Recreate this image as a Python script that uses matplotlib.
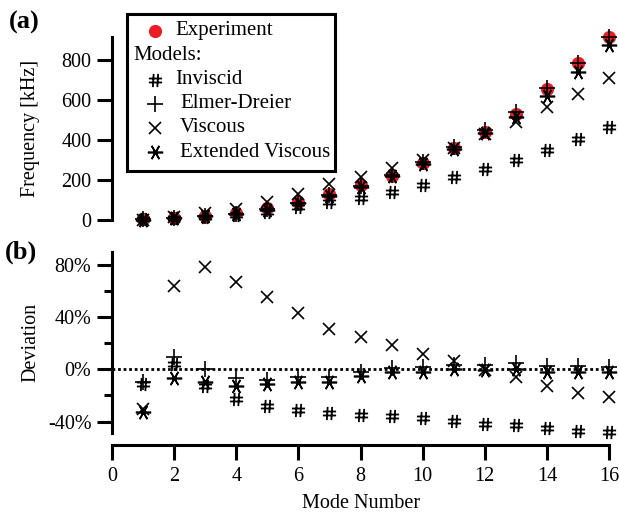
import matplotlib
matplotlib.use('Agg')
import matplotlib.pyplot as plt
from matplotlib.lines import Line2D
from matplotlib.patches import Rectangle
from matplotlib.path import Path
from matplotlib.ticker import FuncFormatter, MultipleLocator

plt.rcParams['font.family'] = ['Liberation Serif', 'DejaVu Serif']

# ---------------- data ----------------
modes = list(range(1, 17))

freq_experiment = [3, 8, 20, 33, 58, 92, 130, 175, 222, 283, 358, 442, 530, 655, 783, 915]
freq_inviscid = [3, 8, 17, 26, 42, 63, 88, 112, 142, 175, 217, 255, 300, 350, 405, 463]
freq_elmer = [2.7, 8.8, 20, 31, 53, 87, 123, 172, 225, 289, 365, 450, 542, 658, 783, 915]
freq_viscous = [2, 13, 36, 55, 92, 132, 180, 217, 258, 300, 362, 428, 492, 563, 630, 708]
freq_ext_viscous = [2, 7.8, 18, 29, 51, 83, 118, 166, 218, 280, 353, 433, 517, 620, 742, 875]

dev_inviscid = [-11.3, 4.0, -12.5, -22.7, -28.0, -31.0, -33.7, -34.6, -35.7, -37.5, -39.5, -41.8, -42.6, -45.0, -47.0, -47.7]
dev_elmer = [-10.0, 9.6, 0.0, -6.4, -8.2, -5.6, -5.6, -1.8, 1.2, 2.0, 3.0, 3.3, 4.6, 2.5, 2.5, 2.0]
dev_viscous = [-30.0, 64.0, 78.0, 66.5, 55.5, 43.0, 31.0, 24.5, 18.6, 11.7, 6.0, -0.8, -5.6, -12.8, -17.9, -21.4]
dev_ext_viscous = [-32.4, -6.4, -10.0, -12.5, -11.5, -10.0, -9.6, -5.1, -1.8, -1.8, 0.3, -0.5, 0.3, -1.8, -1.8, -1.8]

freq_ticks = [0, 200, 400, 600, 800]
dev_ticks = [-40, 0, 40, 80]
mode_ticks = [0, 2, 4, 6, 8, 10, 12, 14, 16]

# ---------------- styles ----------------
RED = '#ec1c24'
W, H = 619, 516

hash_path = Path(
    [(-0.2, -0.5), (-0.14, 0.5), (0.14, -0.5), (0.2, 0.5),
     (-0.5, 0.15), (0.5, 0.15), (-0.5, -0.15), (0.5, -0.15)],
    [Path.MOVETO, Path.LINETO, Path.MOVETO, Path.LINETO,
     Path.MOVETO, Path.LINETO, Path.MOVETO, Path.LINETO])
asterisk = (6, 2, 90)

styles = {
    'inviscid': dict(marker=hash_path, ms=9.5, mew=1.3),
    'elmer': dict(marker='+', ms=12, mew=1.2),
    'viscous': dict(marker='x', ms=9, mew=1.2),
    'ext': dict(marker=asterisk, ms=11, mew=1.2),
}

fig = plt.figure(figsize=(W / 100, H / 100), dpi=100)

def fx(px):
    return px / W

def fy(py):
    return 1 - py / H

ax1 = fig.add_axes([fx(112), fy(220), fx(609) - fx(112), fy(36.7) - fy(220)])
ax2 = fig.add_axes([fx(112), fy(433), fx(609) - fx(112), fy(252) - fy(433)], sharex=ax1)

SPW = 2.2

def plot_series(ax, exp, inv, elm, vis, ext):
    if exp is not None:
        ax.plot(modes, exp, 'o', color=RED, ms=9.5, mec='none', clip_on=False, zorder=2)
    for key, vals in (('inviscid', inv), ('elmer', elm), ('viscous', vis), ('ext', ext)):
        st = styles[key]
        ax.plot(modes, vals, ls='none', color='black', marker=st['marker'], ms=st['ms'],
                mew=st['mew'], fillstyle='none', clip_on=False, zorder=3)
    ax.plot(modes, ext, ls='none', marker='o', color='black', ms=2.5, clip_on=False, zorder=3)

plot_series(ax1, freq_experiment, freq_inviscid, freq_elmer, freq_viscous, freq_ext_viscous)
ax2.axhline(0, color='black', ls=(0, (1, 1)), lw=2, zorder=1)
plot_series(ax2, None, dev_inviscid, dev_elmer, dev_viscous, dev_ext_viscous)

ax1.set_xlim(0, 16)
ax1.set_ylim(0, 917)
ax2.set_ylim(-48.7, 89.7)

for ax in (ax1, ax2):
    for s in ('top', 'right'):
        ax.spines[s].set_visible(False)
    ax.spines['left'].set_linewidth(SPW)
    ax.tick_params(axis='y', which='major', direction='out', length=10.8, width=SPW,
                   labelsize=14.5, pad=4)
    ax.patch.set_alpha(0)

ax1.spines['bottom'].set_visible(False)
ax1.tick_params(axis='x', which='both', bottom=False, labelbottom=False)
ax1.set_yticks(freq_ticks)

ax2.set_yticks(dev_ticks)
ax2.yaxis.set_minor_locator(MultipleLocator(20))
ax2.tick_params(axis='y', which='minor', direction='out', length=5.8, width=SPW)
ax2.yaxis.set_major_formatter(FuncFormatter(lambda v, p: f'{v:.0f}%'))

ax2.spines['bottom'].set_position(('outward', 8.6))
ax2.spines['bottom'].set_linewidth(SPW)
ax2.set_xticks(mode_ticks)
ax2.tick_params(axis='x', which='major', direction='out', length=10.8, width=SPW,
                labelsize=14.5, pad=5)
ax2.tick_params(axis='x', which='minor', bottom=False)

fig.text(fx(31), fy(128), 'Frequency [kHz]', rotation=90, ha='center', va='center', fontsize=14.5)
fig.text(fx(31), fy(342), 'Deviation', rotation=90, ha='center', va='center', fontsize=14.5)
fig.text(fx(361), fy(503), 'Mode Number', ha='center', va='center', fontsize=14.5)
fig.text(fx(9), fy(22), '(a)', ha='left', va='center', fontsize=19, fontweight='bold')
fig.text(fx(5), fy(252), '(b)', ha='left', va='center', fontsize=19, fontweight='bold')

# ---------------- legend ----------------
fig.add_artist(Rectangle((fx(127), fy(171)), fx(335) - fx(127), fy(14) - fy(171),
                         transform=fig.transFigure, fill=True, facecolor='white',
                         edgecolor='black', lw=2.2, zorder=5))
leg_rows = [
    ('Experiment', 'exp', 31, 175),
    ('Models:', None, 56, 133),
    ('Inviscid', 'inviscid', 80, 175),
    ('Elmer-Dreier', 'elmer', 104, 180),
    ('Viscous', 'viscous', 128, 180),
    ('Extended Viscous', 'ext', 152, 180),
]
for label, key, py, tx in leg_rows:
    if key == 'exp':
        fig.add_artist(Line2D([fx(155)], [fy(py)], marker='o', color=RED, ms=9.5, mec='none',
                              ls='none', transform=fig.transFigure, zorder=6))
    elif key is not None:
        st = styles[key]
        fig.add_artist(Line2D([fx(155)], [fy(py)], marker=st['marker'], ms=st['ms'],
                              mew=st['mew'], color='black', fillstyle='none', ls='none',
                              transform=fig.transFigure, zorder=6))
        if key == 'ext':
            fig.add_artist(Line2D([fx(155)], [fy(py)], marker='o', ms=2.5, color='black',
                                  ls='none', transform=fig.transFigure, zorder=6))
    fig.text(fx(tx), fy(py), label, ha='left', va='center', fontsize=15, zorder=7)

fig.savefig('out.png', dpi=100)
